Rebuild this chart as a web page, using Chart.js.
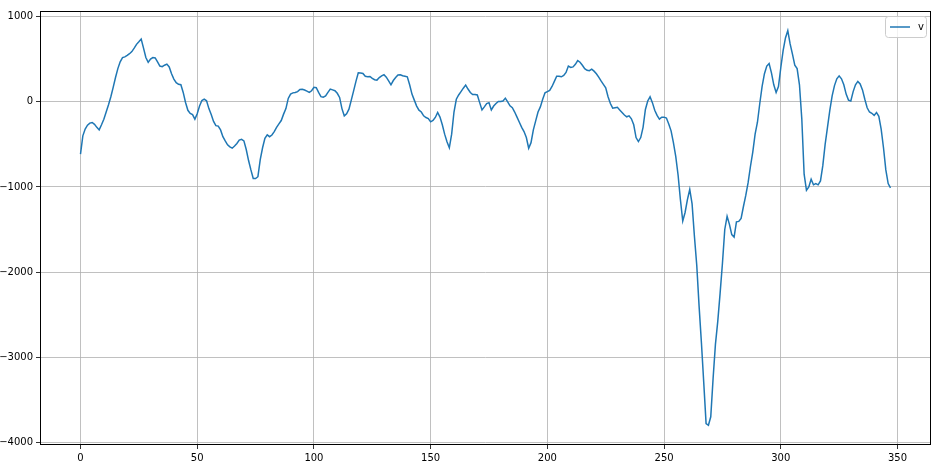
<!DOCTYPE html>
<html>
<head>
<meta charset="utf-8">
<script src="https://cdn.jsdelivr.net/npm/chart.js@4"></script>
<style>
  html, body { margin: 0; padding: 0; background: #fff; }
  canvas { display: block; }
</style>
</head>
<body>
<canvas id="chart" width="942" height="470"></canvas>
<script>
const seriesName = 'v';

// one value per index 0..347
const values = [
  -615, -400, -320, -275, -250, -243, -265, -300, -330, -270,
  -205, -120, -35, 60, 170, 285, 390, 470, 520, 528,
  545, 565, 590, 630, 675, 705, 737, 630, 520, 463,
  502, 520, 515, 470, 420, 412, 430, 443, 410, 330,
  267, 225, 205, 200, 110, -8, -100, -137, -150, -204,
  -140, -50, 15, 31, 12, -80, -150, -230, -280, -285,
  -330, -410, -460, -505, -530, -545, -520, -490, -450, -440,
  -459, -560, -690, -800, -900, -902, -880, -680, -540, -430,
  -388, -410, -390, -350, -300, -260, -220, -145, -80, 40,
  90, 105, 110, 120, 145, 148, 138, 125, 110, 130,
  170, 165, 110, 60, 55, 70, 110, 149, 140, 130,
  100, 51, -80, -165, -140, -86, 20, 129, 240, 340,
  338, 333, 300, 294, 298, 275, 260, 255, 285, 305,
  318, 290, 247, 200, 250, 286, 315, 318, 306, 300,
  294, 200, 90, 20, -50, -98, -120, -165, -185, -196,
  -235, -220, -184, -125, -180, -270, -380, -470, -540, -380,
  -120, 30, 80, 120, 160, 196, 150, 110, 86, 85,
  80, -10, -95, -60, -20, -10, -95, -50, -20, 4,
  5, 10, 43, 0, -47, -70, -120, -180, -240, -300,
  -350, -420, -545, -480, -330, -224, -120, -60, 30, 105,
  120, 135, 180, 240, 300, 300, 294, 310, 345, 420,
  404, 410, 440, 485, 465, 430, 390, 370, 365, 384,
  360, 330, 290, 245, 205, 165, 60, -20, -75, -70,
  -65, -95, -125, -155, -176, -165, -200, -270, -420, -467,
  -420, -300, -90, 10, 59, -10, -100, -160, -204, -180,
  -180, -190, -260, -341, -480, -640, -860, -1150, -1400, -1300,
  -1150, -1030, -1200, -1580, -1920, -2400, -2830, -3300, -3780, -3800,
  -3700, -3250, -2850, -2580, -2250, -1900, -1500, -1345, -1440, -1560,
  -1590, -1410, -1405, -1370, -1230, -1100, -950, -760, -590, -380,
  -240, -20, 180, 330, 420, 450, 340, 200, 110, 180,
  400, 600, 750, 835, 680, 560, 430, 390, 200, -200,
  -850, -1040, -1000, -910, -975, -960, -975, -930, -750, -500,
  -300, -100, 70, 190, 270, 305, 270, 200, 90, 20,
  10, 120, 200, 240, 210, 140, 30, -70, -120, -135,
  -160, -125, -170, -320, -540, -800, -960, -1010
];

const xTicks = [0, 50, 100, 150, 200, 250, 300, 350];
const yTicks = [-4000, -3000, -2000, -1000, 0, 1000];

const lineColor = '#1f77b4';
const gridColor = '#b0b0b0';
const tickFont = { family: 'DejaVu Sans', size: 10 };

// matplotlib-like 5% margins around the data
const lastIndex = values.length - 1;
const xPad = lastIndex * 0.05;
const yMinData = Math.min(...values);
const yMaxData = Math.max(...values);
const yPad = (yMaxData - yMinData) * 0.05;

const points = values.map((v, i) => ({ x: i, y: v }));

function minusSign(value) {
  return String(value).replace('-', '\u2212');
}

// frame on all four sides plus the legend box in the upper right corner
const framePlugin = {
  id: 'frame',
  afterDatasetsDraw(chart) {
    const { ctx, chartArea: a } = chart;
    ctx.save();
    ctx.strokeStyle = '#000';
    ctx.lineWidth = 1;
    ctx.strokeRect(a.left + 0.5, a.top + 0.5, a.right - a.left - 1, a.bottom - a.top - 1);

    const boxW = 41, boxH = 21;
    const boxX = a.right - 5 - boxW;
    const boxY = a.top + 5;
    ctx.beginPath();
    ctx.roundRect(boxX + 0.5, boxY + 0.5, boxW, boxH, 3);
    ctx.fillStyle = 'rgba(255,255,255,0.8)';
    ctx.fill();
    ctx.strokeStyle = '#cccccc';
    ctx.stroke();

    const midY = boxY + boxH / 2 + 0.5;
    ctx.beginPath();
    ctx.moveTo(boxX + 5, midY);
    ctx.lineTo(boxX + 25, midY);
    ctx.strokeStyle = lineColor;
    ctx.lineWidth = 1.5;
    ctx.stroke();

    ctx.fillStyle = '#000';
    ctx.font = '10px "DejaVu Sans"';
    ctx.textBaseline = 'middle';
    ctx.fillText(chart.data.datasets[0].label, boxX + 33, midY);
    ctx.restore();
  }
};

new Chart(document.getElementById('chart'), {
  type: 'line',
  data: {
    datasets: [{
      label: seriesName,
      data: points,
      borderColor: lineColor,
      borderWidth: 1.5,
      pointRadius: 0,
      tension: 0,
      fill: false
    }]
  },
  options: {
    responsive: false,
    animation: false,
    layout: { padding: { top: 11, right: 11, left: 0, bottom: 0 } },
    plugins: {
      legend: { display: false },
      tooltip: { enabled: false }
    },
    scales: {
      x: {
        type: 'linear',
        min: -xPad,
        max: lastIndex + xPad,
        afterBuildTicks: scale => { scale.ticks = xTicks.map(v => ({ value: v })); },
        afterFit: scale => { scale.height = 25; },
        border: { display: false },
        grid: { color: gridColor, lineWidth: 0.8, tickColor: '#000', tickLength: 4 },
        ticks: {
          font: tickFont, color: '#000', padding: 3,
          autoSkip: false, maxRotation: 0,
          callback: v => minusSign(v)
        }
      },
      y: {
        min: yMinData - yPad,
        max: yMaxData + yPad,
        afterBuildTicks: scale => { scale.ticks = yTicks.map(v => ({ value: v })); },
        afterFit: scale => { scale.width = 40; },
        border: { display: false },
        grid: { color: gridColor, lineWidth: 0.8, tickColor: '#000', tickLength: 4 },
        ticks: {
          font: tickFont, color: '#000', padding: 3,
          autoSkip: false,
          callback: v => minusSign(v)
        }
      }
    }
  },
  plugins: [framePlugin]
});
</script>
</body>
</html>
